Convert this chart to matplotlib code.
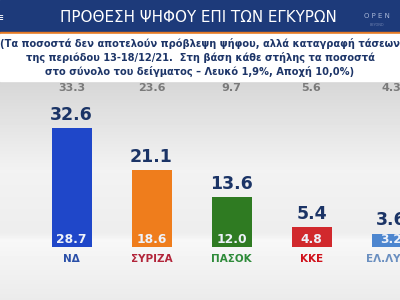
import matplotlib
matplotlib.use("Agg")
import matplotlib.pyplot as plt
import numpy as np

# data
parties = ["ΝΔ", "ΣΥΡΙΖΑ", "ΠΑΣΟΚ", "ΚΚΕ", "ΕΛ.ΛΥΣΗ"]
valid_vote = [32.6, 21.1, 13.6, 5.4, 3.6]      # big labels on top of bars
raw_vote = [28.7, 18.6, 12.0, 4.8, 3.2]        # labels inside bars
reduced = [33.3, 23.6, 9.7, 5.6, 4.3]          # grey row at the top
bar_colors = ["#1f47c9", "#ef7d1c", "#2f7b22", "#d1292d", "#4d86cf"]
logo_colors = ["#2a4fa8", "#b2253a", "#2e8b3a", "#d0101a", "#6a8fc0"]

title = "ΠΡΟΘΕΣΗ ΨΗΦΟΥ ΕΠΙ ΤΩΝ ΕΓΚΥΡΩΝ"
subtitle = ("(Τα ποσοστά δεν αποτελούν πρόβλεψη ψήφου, αλλά καταγραφή τάσεων\n"
            "της περιόδου 13-18/12/21.  Στη βάση κάθε στήλης τα ποσοστά\n"
            "στο σύνολο του δείγματος – Λευκό 1,9%, Αποχή 10,0%)")

W, H = 400, 300
fig = plt.figure(figsize=(4, 3), dpi=100)

# background in pixel coords
bg = fig.add_axes([0, 0, 1, 1])
bg.set_xlim(0, W)
bg.set_ylim(H, 0)
bg.axis("off")
grad = np.interp(np.arange(H), [0, 80, 170, 232, 240, 300],
                 [0.84, 0.84, 0.95, 0.93, 0.97, 0.92])
bg.imshow(np.tile(grad[:, None], (1, 2)), cmap="gray", vmin=0, vmax=1,
          extent=[0, W, H, 0], aspect="auto")
# header band
bg.add_patch(plt.Rectangle((0, 0), W, 32, color="#1d3a7a"))
bg.add_patch(plt.Rectangle((0, 32), W, 1.5, color="#e57a24"))
bg.add_patch(plt.Rectangle((0, 33.5), W, 47, color="white"))
bg.text(198, 18, title, color="white", fontsize=10.9, ha="center", va="center",
        family="DejaVu Sans")
bg.text(377, 16, "O P E N", color="#a9b8d8", fontsize=5, ha="center", va="center")
bg.text(377, 25, "BEYOND", color="#6f82b0", fontsize=2.5, ha="center", va="center")
bg.text(0, 18, "≡", color="white", fontsize=8, ha="center", va="center")
bg.text(200, 57.5, subtitle, color="#1d3568", fontsize=7.15, fontweight="bold",
        ha="center", va="center", linespacing=1.3)

# bars
ax = fig.add_axes([0, (H - 247) / H, 1, (247 - 82) / H])
ax.patch.set_alpha(0)
px = 3.65  # pixels per percentage point
ax.set_xlim(-71.5 / 80, (W - 71.5) / 80)
ax.set_ylim(0, (247 - 82) / px)
ax.axis("off")

x = np.arange(len(parties))
ax.bar(x, valid_vote, width=0.5, color=bar_colors)
for i in x:
    ax.text(i, valid_vote[i] + 1.2, f"{valid_vote[i]:.1f}", color="#1b3466",
            fontsize=12.5, fontweight="bold", ha="center", va="bottom")
    ax.text(i, 2.0, f"{raw_vote[i]:.1f}", color="#eef2fa", fontsize=8.8,
            fontweight="bold", ha="center", va="center")
    ax.text(i, (247 - 88) / px, f"{reduced[i]:.1f}", color="#7a7a7a",
            fontsize=8, fontweight="bold", ha="center", va="center", clip_on=False)
    ax.text(i, -3.4, parties[i], color=logo_colors[i], fontsize=7.5,
            fontweight="bold", ha="center", va="center", clip_on=False)

fig.savefig("out.png", dpi=100)
